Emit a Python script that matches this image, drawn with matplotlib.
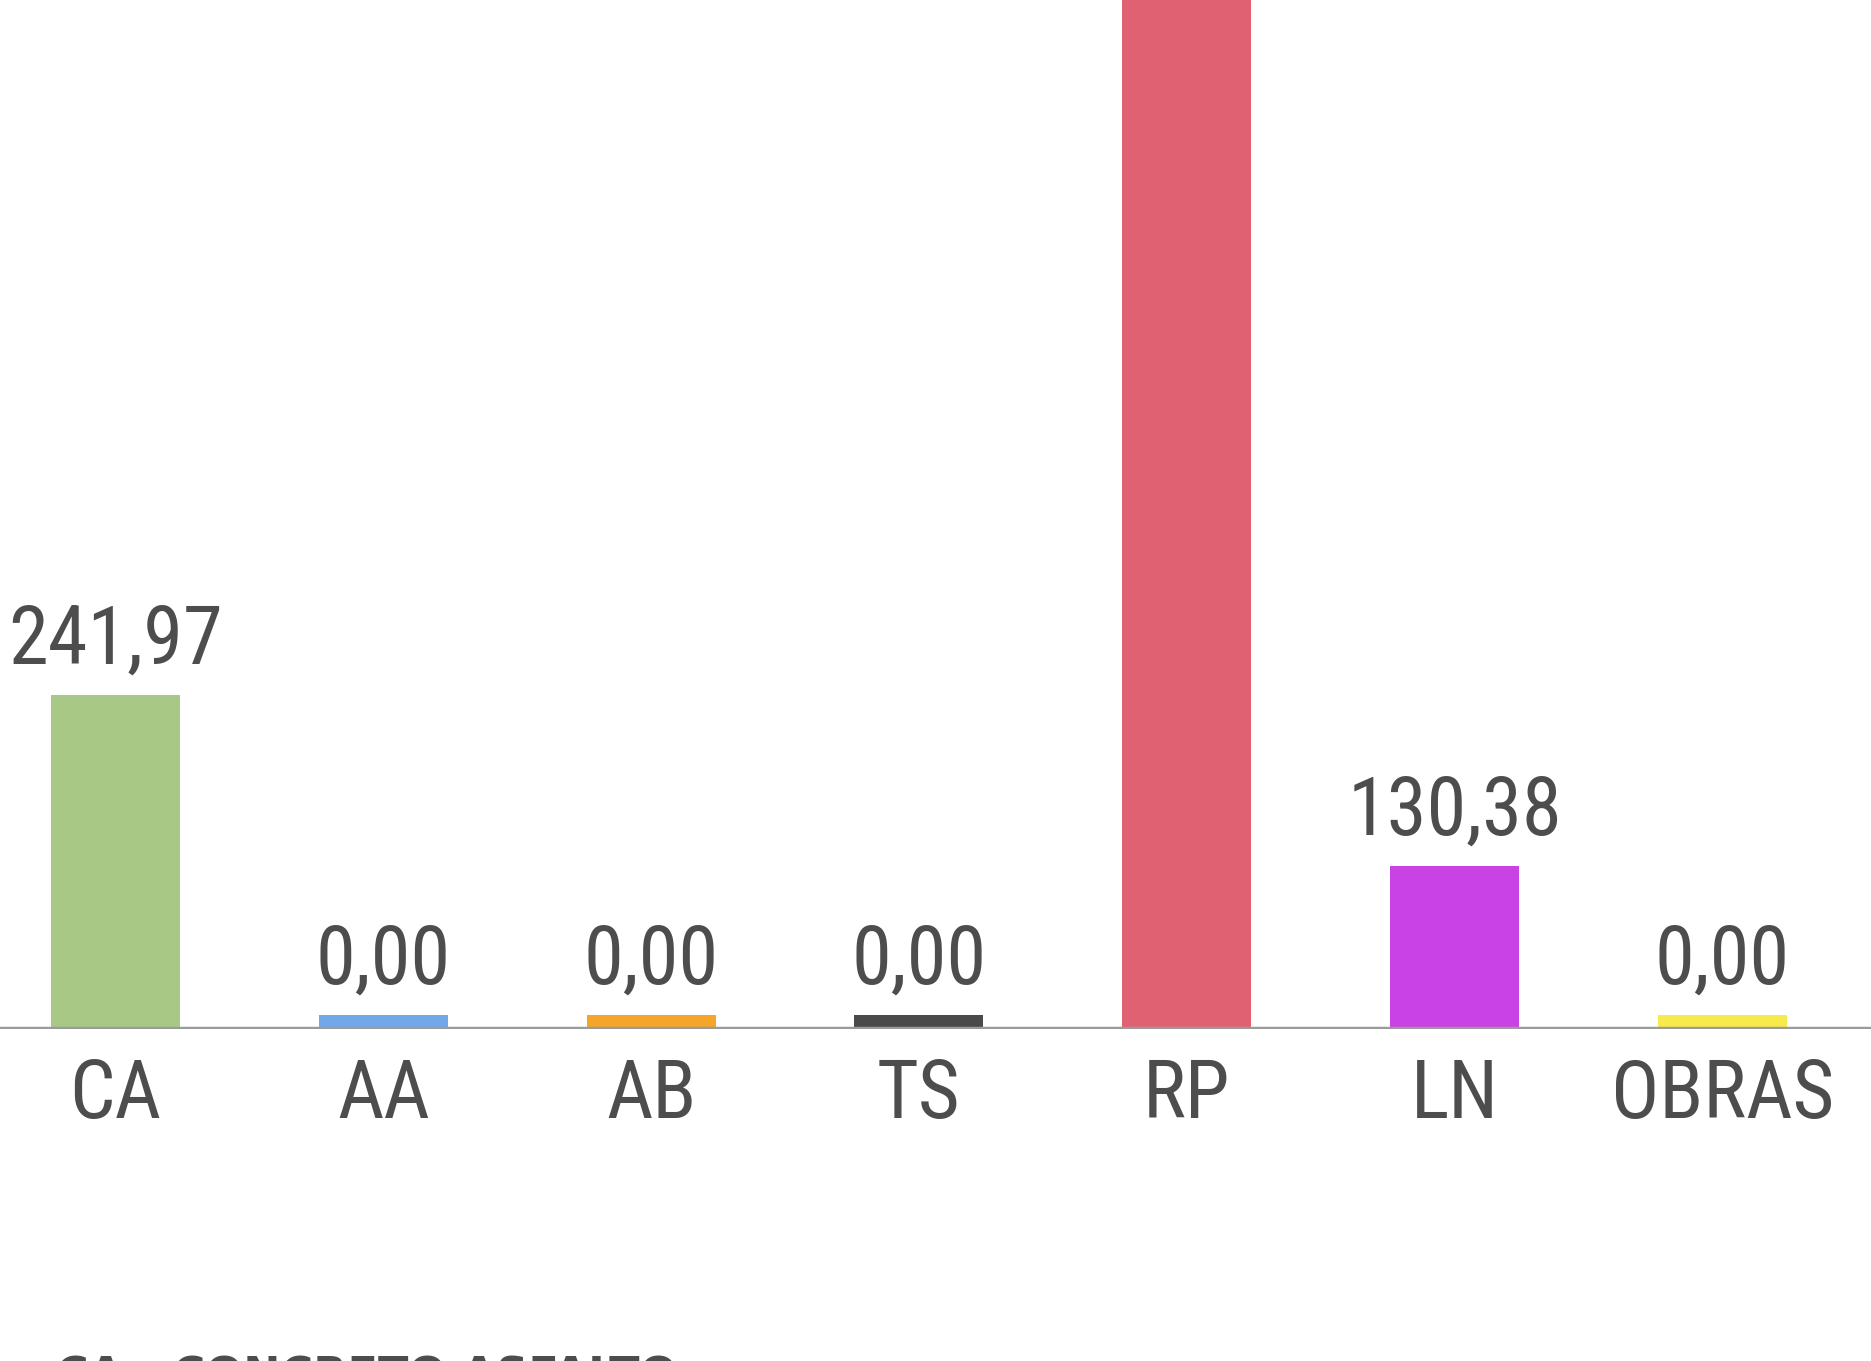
import matplotlib
matplotlib.use("Agg")
import matplotlib.pyplot as plt
import numpy as np

# data
categories = ["CA", "AA", "AB", "TS", "RP", "LN", "OBRAS"]
values = [241.97, 0.00, 0.00, 0.00, 800.00, 130.38, 0.00]
colors = ["#a8c986", "#72a8e8", "#f5a52a", "#4a4a4a", "#e06272", "#c842e4", "#f7ea4b"]
legend_text = "CA - CONCRETO ASFALTO"

font = ["Roboto Condensed", "DejaVu Sans"]
text_color = "#4d4d4d"
base = 24.0        # value where the axis line sits
min_bar = 9.0      # smallest visible bar, in data units
top = 696.0

fig = plt.figure(figsize=(18.71, 13.61), dpi=100)
ax = fig.add_axes([0, 0.2439, 1, 0.7561])

x = np.arange(len(categories))
heights = np.maximum(np.array(values), base + min_bar) - base
ax.bar(x, heights, bottom=base, width=0.482, color=colors, zorder=2)
ax.axhline(base, color="#9b9b9b", linewidth=3.2, zorder=3)

for xi, v, h in zip(x, values, heights):
    ax.annotate(f"{v:.2f}".replace(".", ","), (xi, base + h),
                xytext=(0, 23), textcoords="offset points",
                ha="center", va="baseline", fontsize=58,
                family=font, color=text_color, annotation_clip=True,
                clip_on=True)

ax.set_xlim(-0.431, 6.555)
ax.set_ylim(base, top)
ax.set_xticks(x)
ax.set_xticklabels(categories, fontsize=58, family=font, color=text_color)
ax.tick_params(axis="x", length=0, pad=20)
ax.set_yticks([])
for s in ax.spines.values():
    s.set_visible(False)

fig.text(0.03, 0.0044, legend_text, ha="left", va="top", fontsize=32,
         fontweight="bold", color=text_color)

fig.savefig("out.png", dpi=100)
